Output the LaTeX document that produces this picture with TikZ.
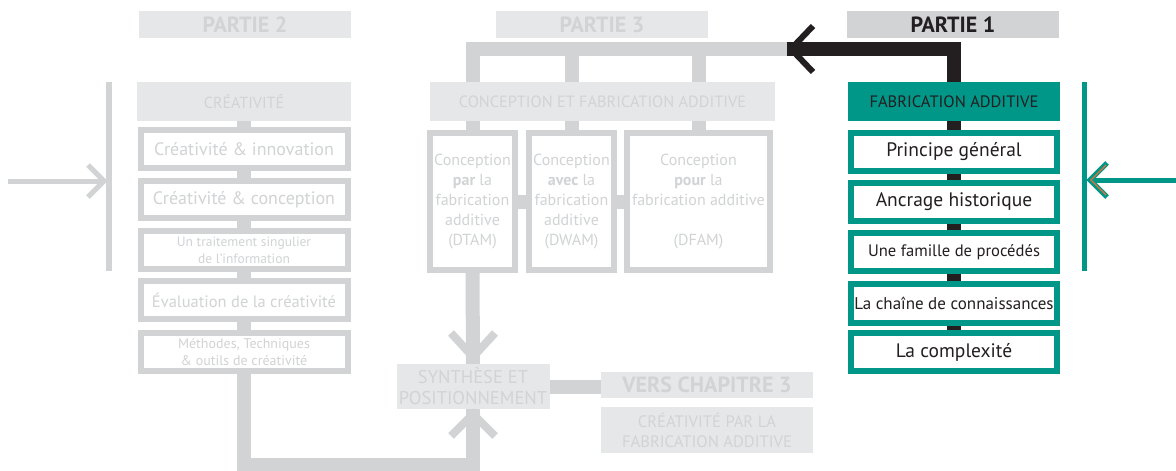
\documentclass[tikz,border=0pt]{standalone}
\usepackage{fontspec}
\setmainfont{PT Sans}
\usetikzlibrary{calc}

\definecolor{lightgr}{HTML}{E6E7E8}
\definecolor{midgr}{HTML}{D1D3D4}
\definecolor{pteal}{HTML}{009688}
\definecolor{darkink}{HTML}{231F20}
\definecolor{orangeline}{HTML}{E0703A}

\pgfdeclarelayer{bg}
\pgfsetlayers{bg,main}

\newcommand{\fsz}[2]{\fontsize{#1}{#2}\selectfont}

\tikzset{
  headbox/.style={fill=lightgr, text=midgr, inner sep=0pt, outer sep=0pt, align=center},
  graybox/.style={draw=midgr, line width=6pt, fill=white, text=midgr, inner sep=0pt, outer sep=0pt, align=center},
  tealbox/.style={draw=pteal, line width=6pt, fill=white, text=darkink, inner sep=0pt, outer sep=0pt, align=center},
  graybar/.style={draw=midgr, line width=14pt},
  blackbar/.style={draw=darkink, line width=14pt},
  graychev/.style={draw=midgr, line width=8pt},
}

\begin{document}
\begin{tikzpicture}[x=1pt, y=-1pt]
\useasboundingbox (0,0) rectangle (1176,471);

% partie 2 : creativite
\node[headbox, font=\fsz{22}{24}\bfseries, minimum width=212pt, minimum height=27pt] at (245,24.5) (p2) {PARTIE 2};
\node[headbox, font=\fsz{16}{18}, minimum width=214pt, minimum height=39pt] at (244,101.5) (crea) {CRÉATIVITÉ};
\node[graybox, font=\fsz{18}{20}, minimum width=207pt, minimum height=38pt] at (244,149) (c1) {Créativité \& innovation};
\node[graybox, font=\fsz{18}{20}, minimum width=207pt, minimum height=37pt] at (244,199.5) (c2) {Créativité \& conception};
\node[graybox, font=\fsz{13.5}{17}, minimum width=207pt, minimum height=38pt] at (244,250) (c3) {Un traitement singulier\\de l’information};
\node[graybox, font=\fsz{16.5}{19}, minimum width=207pt, minimum height=38pt] at (244,300) (c4) {Évaluation de la créativité};
\node[graybox, font=\fsz{14}{17}, minimum width=207pt, minimum height=38pt] at (244,352) (c5) {Méthodes, Techniques\\\& outils de créativité};

% partie 3 : conception
\node[headbox, font=\fsz{22}{24}\bfseries, minimum width=212pt, minimum height=27pt] at (602,24.5) (p3) {PARTIE 3};
\node[headbox, font=\fsz{16.3}{18}, minimum width=345pt, minimum height=39pt] at (602.5,101.5) (concep) {CONCEPTION ET FABRICATION ADDITIVE};
\node[graybox, font=\fsz{16}{20}, minimum width=85pt, minimum height=137pt] at (472.5,201.5) (dtam) {Conception\\\textbf{par} la\\fabrication\\additive\\(DTAM)};
\node[graybox, font=\fsz{16}{20}, minimum width=85pt, minimum height=137pt] at (571.5,201.5) (dwam) {Conception\\\textbf{avec} la\\fabrication\\additive\\(DWAM)};
\node[graybox, font=\fsz{16}{20}, minimum width=143pt, minimum height=137pt] at (698.5,201.5) (dfam) {Conception\\\textbf{pour} la\\fabrication additive\\[20pt](DFAM)};
\node[headbox, font=\fsz{18.5}{21}, minimum width=153pt, minimum height=45pt] at (473,386.5) (synth) {SYNTHÈSE ET\\POSITIONNEMENT};
\node[headbox, font=\fsz{22}{24}\bfseries, minimum width=212pt, minimum height=26pt] at (707,385) (vers) {VERS CHAPITRE 3};
\node[headbox, font=\fsz{16.6}{20}, minimum width=212pt, minimum height=46pt] at (707,430) (crea2) {CRÉATIVITÉ PAR LA\\FABRICATION ADDITIVE};

% partie 1 : fabrication additive
\node[headbox, fill=midgr, text=darkink, font=\fsz{22}{24}\bfseries, minimum width=212pt, minimum height=27pt] at (953,24.5) (p1) {PARTIE 1};
\node[headbox, fill=pteal, text=darkink, font=\fsz{16.5}{18}, minimum width=212pt, minimum height=39pt] at (954,101.5) (fab) {FABRICATION ADDITIVE};
\node[tealbox, font=\fsz{19.5}{21}, minimum width=206pt, minimum height=38pt] at (954,152) (r1) {Principe général};
\node[tealbox, font=\fsz{19.5}{21}, minimum width=206pt, minimum height=38pt] at (954,202) (r2) {Ancrage historique};
\node[tealbox, font=\fsz{16.6}{18}, minimum width=206pt, minimum height=38pt] at (954,252) (r3) {Une famille de procédés};
\node[tealbox, font=\fsz{17}{19}, minimum width=206pt, minimum height=39pt] at (954,303.5) (r4) {La chaîne de connaissances};
\node[tealbox, font=\fsz{19.5}{21}, minimum width=206pt, minimum height=38pt] at (954,352) (r5) {La complexité};

% free ends
\coordinate (tip) at (787,49);
\coordinate (bend) at (473,465);
\coordinate (ltop) at (109,82);
\coordinate (lbot) at (109,271);
\coordinate (lin) at (8,181);
\coordinate (lhit) at (104,181);
\coordinate (rtop) at (1084.5,82);
\coordinate (rbot) at (1084.5,271);
\coordinate (rin) at (1176,180);
\coordinate (rhit) at (1090,180);

\begin{pgfonlayer}{bg}
% connectors behind the boxes
\draw[graybar] (crea.south) -- (c5.north);
\draw[graybar] (c5.south) |- (bend) -- (synth.south);
\draw[graybar] (dtam.north) |- (tip);
\draw[graybar] (dwam.north) -- (dwam.north |- tip);
\draw[graybar] (dfam.north) -- (dfam.north |- tip);
\draw[graybar] (dtam.east) -- (dfam.west);
\draw[graybar] (dtam.south) -- (synth.north);
\draw[graybar] (synth.east) -- (synth.east -| vers.west);
\draw[blackbar] (r5.north) |- (tip);
\end{pgfonlayer}

% arrow heads
\draw[graychev] ($(synth.north)+(-22,-31)$) -- ($(synth.north)+(0,-7)$) -- ($(synth.north)+(22,-31)$);
\draw[graychev] ($(synth.south)+(-22,27)$) -- ($(synth.south)+(0,5)$) -- ($(synth.south)+(22,27)$);
\draw[darkink, line width=6pt] ($(tip)+(26,-23)$) -- ($(tip)+(4,0)$) -- ($(tip)+(26,23)$);

% left bracket
\draw[midgr, line width=6pt] (ltop) -- (lbot);
\draw[midgr, line width=5pt] (lin) -- (lhit);
\draw[midgr, line width=5pt] ($(lhit)+(-16,-16)$) -- (lhit) -- ($(lhit)+(-16,16)$);

% right bracket
\draw[pteal, line width=5pt] (rtop) -- (rbot);
\draw[pteal, line width=5pt] (rin) -- (rhit);
\draw[pteal, line width=5pt] ($(rhit)+(17,-17)$) -- (rhit) -- ($(rhit)+(17,17)$);
\draw[orangeline, line width=1.2pt] ($(rhit)+(16,-15)$) -- ($(rhit)+(1,0)$) -- ($(rhit)+(16,15)$);
\end{tikzpicture}
\end{document}
